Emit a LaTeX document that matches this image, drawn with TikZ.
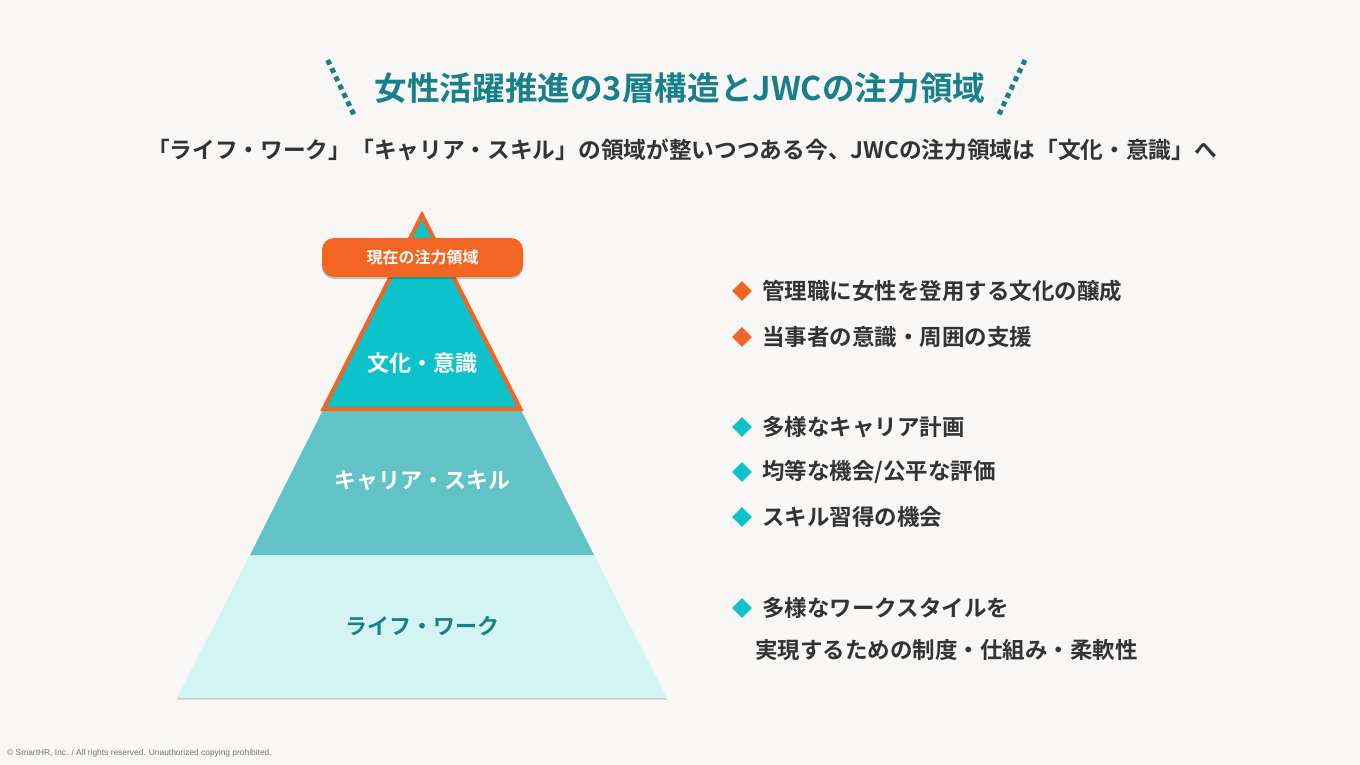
\documentclass[tikz,border=0pt]{standalone}
\usepackage{fontspec}
\setmainfont{Noto Sans CJK JP}[BoldFont={Noto Sans CJK JP Bold}]
\newfontfamily\footfont{Liberation Sans}
\usetikzlibrary{shapes.geometric,shadows}
\definecolor{bgcol}{HTML}{F8F7F5}
\definecolor{titleteal}{HTML}{17808A}
\definecolor{cyanA}{HTML}{0CC3CB}
\definecolor{tealB}{HTML}{62C3C6}
\definecolor{paleC}{HTML}{D4F4F4}
\definecolor{orangeA}{HTML}{F26522}
\definecolor{textdark}{HTML}{333333}
\definecolor{lifetext}{HTML}{19808A}
\definecolor{diaTeal}{HTML}{0CC3CB}
\tikzset{
  dotline/.style={titleteal, line width=5pt, dash pattern=on 5pt off 4.2pt},
  layershadow/.style={drop shadow={shadow xshift=0pt, shadow yshift=-1.5pt, opacity=0.18, fill=black}},
  layerlabel/.style={font=\bfseries\fontsize{22}{22}\selectfont, inner sep=0pt},
  bullettext/.style={anchor=west, font=\bfseries\fontsize{22.5}{22.5}\selectfont, text=textdark, inner sep=0pt},
  diamark/.style={diamond, aspect=1, minimum width=20pt, minimum height=20pt, inner sep=0pt},
  labelbox/.style={rounded corners=12pt, fill=orangeA, text=white, minimum width=201pt, minimum height=39pt, inner sep=0pt,
     font=\bfseries\fontsize{16}{16}\selectfont, drop shadow={shadow xshift=0pt, shadow yshift=-2pt, opacity=0.2, fill=black}}
}
\begin{document}
\begin{tikzpicture}[x=1pt,y=-1pt]
\fill[bgcol] (0,0) rectangle (1360,765);
\useasboundingbox (0,0) rectangle (1360,765);

% title
\node (title) [font=\bfseries\fontsize{32.6}{32.6}\selectfont, text=titleteal, inner sep=0pt] at (680,88) {女性活躍推進の3層構造とJWCの注力領域};
\draw[dotline] (327.7,60) -- (355,117);
\draw[dotline] (1025,60) -- (997.7,117);

% subtitle
\node (subtitle) [font=\bfseries\fontsize{22.7}{22.7}\selectfont, text=textdark, inner sep=0pt] at (682,150) {「ライフ・ワーク」「キャリア・スキル」の領域が整いつつある今、JWCの注力領域は「文化・意識」へ};

% pyramid
\fill[paleC, layershadow] (250,555) -- (594,555) -- (667,698) -- (177,698) -- cycle;
\fill[tealB] (323.5,409) -- (520.5,409) -- (594,555) -- (250,555) -- cycle;
\filldraw[fill=cyanA, draw=orangeA, line width=4pt, line join=miter] (422,215) -- (520.5,409) -- (323.5,409) -- cycle;

\node (focus) [labelbox] at (422.5,257.5) {現在の注力領域};

\node (culture) [layerlabel, text=white] at (422,363) {文化・意識};
\node (career) [layerlabel, text=white] at (422,481) {キャリア・スキル};
\node (life) [layerlabel, text=lifetext] at (422,626) {ライフ・ワーク};

% bullets
\node (d1) [diamark, fill=orangeA] at (742,291) {};
\node (t1) [bullettext] at (762,291) {管理職に女性を登用する文化の醸成};
\node (d2) [diamark, fill=orangeA] at (742,337) {};
\node (t2) [bullettext] at (762,337) {当事者の意識・周囲の支援};
\node (d3) [diamark, fill=diaTeal] at (742,427) {};
\node (t3) [bullettext] at (762,427) {多様なキャリア計画};
\node (d4) [diamark, fill=diaTeal] at (742,472) {};
\node (t4) [bullettext] at (762,472) {均等な機会/公平な評価};
\node (d5) [diamark, fill=diaTeal] at (742,517) {};
\node (t5) [bullettext] at (762,517) {スキル習得の機会};
\node (d6) [diamark, fill=diaTeal] at (742,608) {};
\node (t6) [bullettext] at (762,608) {多様なワークスタイルを};
\node (t7) [bullettext] at (755,650) {実現するための制度・仕組み・柔軟性};

% footer
\node (footer) [anchor=west, font=\footfont\fontsize{8.4}{9}\selectfont, text=black!55, inner sep=0pt] at (7,753) {© SmartHR, Inc. / All rights reserved. Unauthorized copying prohibited.};
\end{tikzpicture}
\end{document}
